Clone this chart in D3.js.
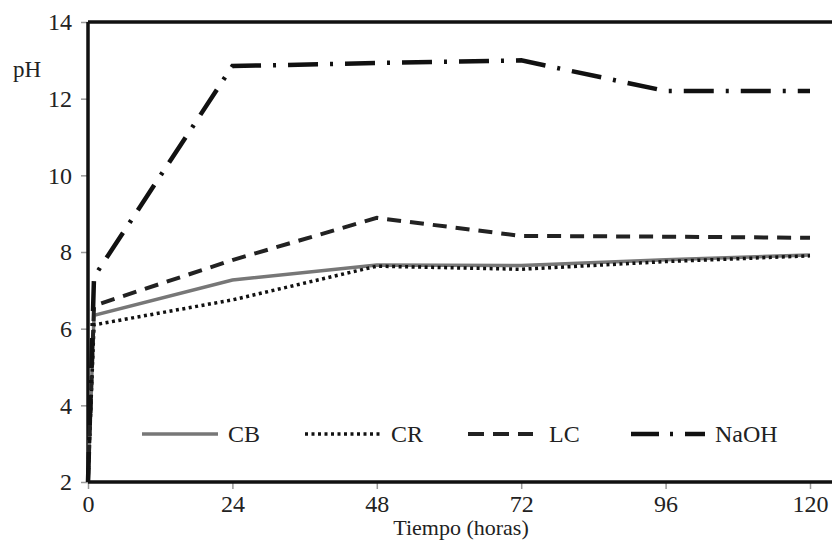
<!DOCTYPE html>
<html>
<head>
<meta charset="utf-8">
<script src="https://cdn.jsdelivr.net/npm/d3@7"></script>
<style>
  body { margin: 0; background: #fff; }
  text { font-family: "Liberation Serif", "DejaVu Serif", serif; fill: #222; }
</style>
</head>
<body>
<div id="chart"></div>
<script>
// hours sampled, t=0 starts near the floor
var hours = [0, 1, 24, 48, 72, 96, 120];
var cb   = [2.0, 6.35, 7.27, 7.66, 7.65, 7.8, 7.92];
var cr   = [2.0, 6.1, 6.75, 7.63, 7.55, 7.75, 7.9];
var lc   = [2.0, 6.6, 7.79, 8.89, 8.42, 8.4, 8.37];
var naoh = [2.0, 7.35, 12.85, 12.93, 13.0, 12.2, 12.2];

var xTicks = [0, 24, 48, 72, 96, 120];
var yTicks = [2, 4, 6, 8, 10, 12, 14];

var width = 832, height = 542;

var svg = d3.select('#chart').append('svg')
  .attr('width', width)
  .attr('height', height);

var x = d3.scaleLinear().domain([0, 120]).range([88, 810]);
var y = d3.scaleLinear().domain([2, 14]).range([482, 22]);

// ticks (grey, outside)
var yAxis = svg.append('g')
  .attr('transform', 'translate(88,0)')
  .call(d3.axisLeft(y).tickValues(yTicks).tickSize(7).tickPadding(9));
yAxis.select('.domain').remove();
yAxis.selectAll('line').attr('stroke', '#999').attr('stroke-width', 1.5);
yAxis.selectAll('text').style('font-size', '24px').style('font-family', '"Liberation Serif", serif').attr('fill', '#222');

var xAxis = svg.append('g')
  .attr('transform', 'translate(0,482)')
  .call(d3.axisBottom(x).tickValues(xTicks).tickSize(7).tickPadding(6));
xAxis.select('.domain').remove();
xAxis.selectAll('line').attr('stroke', '#999').attr('stroke-width', 1.5);
xAxis.selectAll('text').style('font-size', '24px').style('font-family', '"Liberation Serif", serif').attr('fill', '#222');

// frame: left, top, bottom (right edge is off the picture)
var frame = svg.append('g').attr('stroke', '#111').attr('stroke-width', 3.5);
frame.append('line').attr('x1', x(0)).attr('x2', x(0)).attr('y1', y(14)).attr('y2', y(2));
frame.append('line').attr('x1', x(0)).attr('x2', width + 5).attr('y1', y(14)).attr('y2', y(14));
frame.append('line').attr('x1', x(0)).attr('x2', width + 5).attr('y1', y(2)).attr('y2', y(2));

var series = [
  {name: 'CB',   values: cb,   stroke: '#777', width: 3.5, dash: null,          legDash: null},
  {name: 'CR',   values: cr,   stroke: '#111', width: 3.5, dash: '3,3.5',       legDash: '3,3.5'},
  {name: 'LC',   values: lc,   stroke: '#222', width: 4,   dash: '14,9',        legDash: '16,9'},
  {name: 'NaOH', values: naoh, stroke: '#111', width: 4.5, dash: '30,12,3,12',  legDash: '28,11,3,12'}
];

var line = d3.line()
  .x((d, i) => x(hours[i]))
  .y(d => y(d));

svg.append('g').selectAll('path')
  .data(series)
  .enter().append('path')
    .attr('d', d => line(d.values))
    .attr('fill', 'none')
    .attr('stroke', d => d.stroke)
    .attr('stroke-width', d => d.width)
    .attr('stroke-dasharray', d => d.dash);

// legend
var legendX = [142, 305, 468, 631];
var legendW = [76, 76, 65, 74];
var leg = svg.append('g').selectAll('g')
  .data(series)
  .enter().append('g')
    .attr('transform', (d, i) => 'translate(' + legendX[i] + ',434)');
leg.append('line')
  .attr('x1', 0).attr('x2', (d, i) => legendW[i])
  .attr('stroke', d => d.stroke)
  .attr('stroke-width', d => d.width)
  .attr('stroke-dasharray', d => d.legDash);
leg.append('text')
  .attr('x', (d, i) => legendW[i] + (i === 2 ? 16 : 10)).attr('y', 8)
  .style('font-size', '24px')
  .text(d => d.name);

svg.append('text')
  .attr('x', 13).attr('y', 77)
  .style('font-size', '23px')
  .text('pH');

svg.append('text')
  .attr('x', 461).attr('y', 535)
  .attr('text-anchor', 'middle')
  .style('font-size', '22px')
  .text('Tiempo (horas)');
</script>
</body>
</html>
